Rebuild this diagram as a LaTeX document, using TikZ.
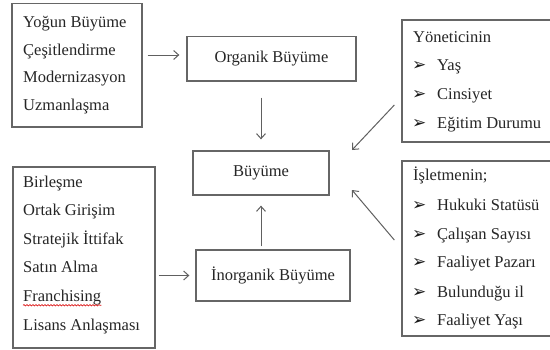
\documentclass[tikz,border=0pt]{standalone}
\usepackage{fontspec}
\setmainfont{Liberation Serif}
\newfontfamily\dejavu{DejaVu Sans}
\usetikzlibrary{arrows.meta,decorations.pathmorphing}
\begin{document}
\begin{tikzpicture}[x=1pt,y=-1pt,
  font=\fontsize{16.5}{20}\selectfont,
  box/.style={draw=gray!80!black, line width=1.3pt, inner sep=0pt, rectangle, text=black!85},
  lbl/.style={anchor=base west, inner sep=0pt, text=black!85},
  bul/.style={anchor=base west, inner sep=0pt, text=black!90, font=\dejavu\fontsize{17}{18}\selectfont},
  arr/.style={draw=gray!75!black, line width=1pt, -{Straight Barb[length=5pt,width=9pt]}}]
\useasboundingbox[fill=white] (0,0) rectangle (550,349);

% boxes
\node[box, minimum width=130pt, minimum height=123.5pt] (b1) at (77,65.25) {};
\node[box, minimum width=142pt, minimum height=181pt] (b2) at (84,257.5) {};
\node[box, minimum width=169pt, minimum height=44.5pt] (org) at (271.5,58.75) {Organik Büyüme};
\node[box, minimum width=136pt, minimum height=44pt] (buy) at (261,173) {Büyüme};
\node[box, minimum width=154pt, minimum height=51pt] (ino) at (273,275.5) {İnorganik Büyüme};
\node[box, minimum width=153pt, minimum height=122pt] (yon) at (478.5,81) {};
\node[box, minimum width=153pt, minimum height=175pt] (isl) at (478.5,248.5) {};

% left top list
\node[lbl] (a1) at (23,27) {Yoğun Büyüme};
\node[lbl] (a2) at (23,55) {Çeşitlendirme};
\node[lbl] (a3) at (23,82.5) {Modernizasyon};
\node[lbl] (a4) at (23,110) {Uzmanlaşma};

% left bottom list
\node[lbl] (c1) at (23,187) {Birleşme};
\node[lbl] (c2) at (23,215.5) {Ortak Girişim};
\node[lbl] (c3) at (23,244) {Stratejik İttifak};
\node[lbl] (c4) at (23,272.5) {Satın Alma};
\node[lbl] (c5) at (23,301) {Franchising};
\node[lbl] (c6) at (23,330) {Lisans Anlaşması};
\draw[red!85!black, line width=0.6pt, decorate, decoration={snake, amplitude=0.7pt, segment length=3pt}]
  ([yshift=-0.5pt]c5.south west) -- ([yshift=-0.5pt]c5.south east);

% right top list
\node[lbl] (y0) at (413,42) {Yöneticinin};
\node[bul] (yb1) at (412,70) {➢};
\node[lbl] (y1) at (437,70) {Yaş};
\node[bul] (yb2) at (412,99) {➢};
\node[lbl] (y2) at (437,99) {Cinsiyet};
\node[bul] (yb3) at (412,128) {➢};
\node[lbl] (y3) at (437,128) {Eğitim Durumu};

% right bottom list
\node[lbl] (i0) at (413,180) {İşletmenin;};
\node[bul] (ib1) at (412,210) {➢};
\node[lbl] (i1) at (437,210) {Hukuki Statüsü};
\node[bul] (ib2) at (412,239) {➢};
\node[lbl] (i2) at (437,239) {Çalışan Sayısı};
\node[bul] (ib3) at (412,267.5) {➢};
\node[lbl] (i3) at (437,267.5) {Faaliyet Pazarı};
\node[bul] (ib4) at (412,297) {➢};
\node[lbl] (i4) at (437,297) {Bulunduğu il};
\node[bul] (ib5) at (412,325) {➢};
\node[lbl] (i5) at (437,325) {Faaliyet Yaşı};

% connectors
\draw[arr, shorten <=5pt, shorten >=7pt] ([yshift=3.75pt]b1.east |- org.west) -- ([yshift=3.75pt]org.west);
\draw[arr, shorten <=16pt, shorten >=11pt] (org.south -| buy.north) -- (buy.north);
\draw[arr, shorten <=3pt, shorten >=10pt] (ino.north -| buy.south) -- (buy.south);
\draw[arr, shorten <=3pt, shorten >=6pt] (b2.east |- ino.west) -- (ino.west);
\coordinate (t1) at (352,150);
\coordinate (t2) at (352,190);
\draw[arr] ([shift={(-7pt,-24pt)}]yon.west) -- (t1);
\draw[arr] ([shift={(-7pt,8.5pt)}]isl.west) -- (t2);
\end{tikzpicture}
\end{document}
